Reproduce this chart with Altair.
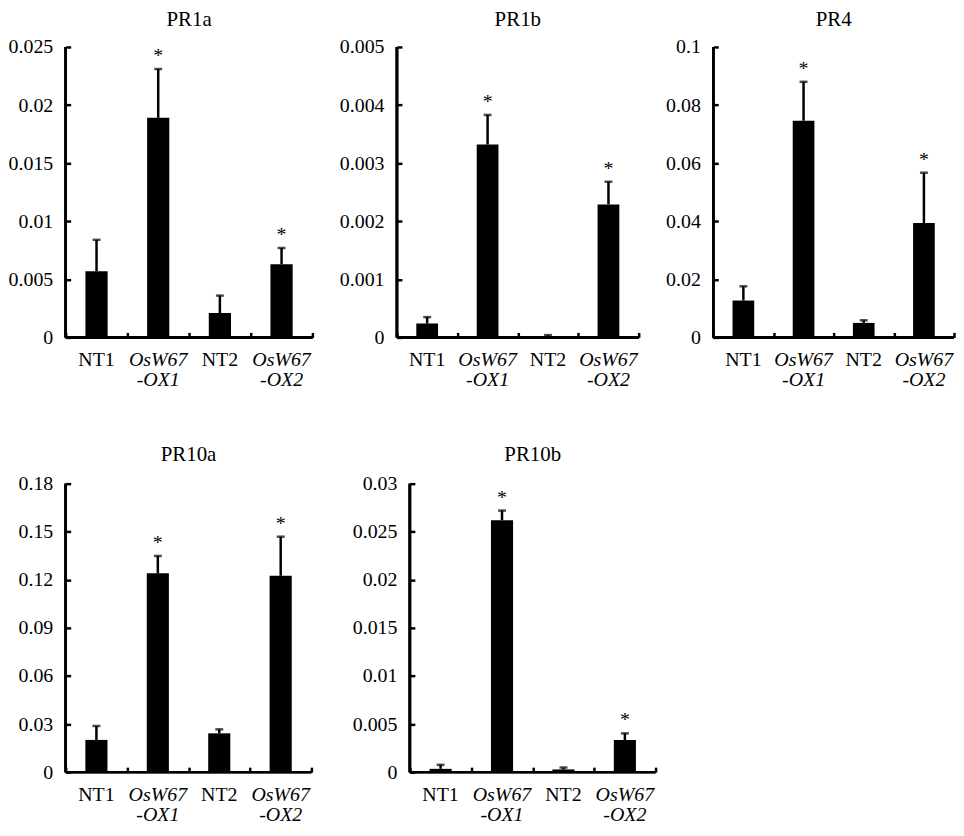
import altair as alt
import pandas as pd

FONT = "Liberation Serif"

lines = ["NT1", "OsW67 -OX1", "NT2", "OsW67 -OX2"]
italic = [False, True, False, True]

means = {
    "PR1a": [0.0057, 0.0189, 0.0021, 0.0063],
    "PR1b": [0.00024, 0.00332, 0.00002, 0.00229],
    "PR4": [0.0127, 0.0746, 0.0050, 0.0394],
    "PR10a": [0.0201, 0.1241, 0.0242, 0.1225],
    "PR10b": [0.00034, 0.0262, 0.00028, 0.00334],
}
upper = {
    "PR1a": [0.0084, 0.0231, 0.0036, 0.0077],
    "PR1b": [0.00035, 0.00383, 0.00004, 0.00268],
    "PR4": [0.0176, 0.0880, 0.0059, 0.0567],
    "PR10a": [0.0288, 0.1349, 0.0267, 0.1469],
    "PR10b": [0.00076, 0.0272, 0.00048, 0.00403],
}
stars = {
    "PR1a": ["", "*", "", "*"],
    "PR1b": ["", "*", "", "*"],
    "PR4": ["", "*", "", "*"],
    "PR10a": ["", "*", "", "*"],
    "PR10b": ["", "*", "", "*"],
}
yticks = {
    "PR1a": [0, 0.005, 0.01, 0.015, 0.02, 0.025],
    "PR1b": [0, 0.001, 0.002, 0.003, 0.004, 0.005],
    "PR4": [0, 0.02, 0.04, 0.06, 0.08, 0.1],
    "PR10a": [0, 0.03, 0.06, 0.09, 0.12, 0.15, 0.18],
    "PR10b": [0, 0.005, 0.01, 0.015, 0.02, 0.025, 0.03],
}


def panel(g, width, height, extent, title_offset):
    df = pd.DataFrame({"line": lines, "mean": means[g], "upper": upper[g],
                       "star": stars[g], "italic": italic})
    base = alt.Chart(df)
    xaxis = alt.Axis(
        title=None, tickBand="extent", domain=False, offset=-5, tickSize=5, tickWidth=2.5,
        tickColor="black", labels=False, labelAngle=0,
    )
    x = alt.X("line:N", sort=lines, scale=alt.Scale(paddingInner=0, paddingOuter=0), axis=xaxis)
    yscale = alt.Scale(domain=[0, max(yticks[g])], nice=False, zero=True)
    yaxis = alt.Axis(
        title=None, values=yticks[g], format="~g", grid=False, domain=False, offset=-5,
        tickSize=5, tickWidth=2.5, tickColor="black", labelPadding=13, labelFont=FONT,
        labelFontSize=20, labelColor="black", minExtent=extent, maxExtent=extent,
    )
    bars = base.mark_bar(color="black", width=alt.RelativeBandSize(0.36)).encode(
        x=x, y=alt.Y("mean:Q", scale=yscale, axis=yaxis)
    )
    err = base.mark_rule(color="black", strokeWidth=2.5).encode(
        x=x, y=alt.Y("mean:Q", scale=yscale, axis=yaxis), y2="upper:Q"
    )
    cap = base.mark_tick(color="black", thickness=2.5, size=8).encode(
        x=x, y=alt.Y("upper:Q", scale=yscale, axis=yaxis)
    )
    star = base.mark_text(font=FONT, fontSize=20, color="black", baseline="alphabetic", dy=-7).encode(
        x=x, y=alt.Y("upper:Q", scale=yscale, axis=yaxis), text="star:N"
    )
    lab_n = base.transform_filter("!datum.italic").mark_text(
        font=FONT, fontSize=20, color="black", baseline="top", lineBreak=" ", lineHeight=20
    ).encode(x=x, y=alt.value(height + 13), text="line:N")
    lab_i = base.transform_filter("datum.italic").mark_text(
        font=FONT, fontSize=20, color="black", baseline="top", lineBreak=" ", lineHeight=20,
        fontStyle="italic"
    ).encode(x=x, y=alt.value(height + 13), text="line:N")
    yline = base.mark_rule(color="black", strokeWidth=2.5).encode(
        x=alt.value(0), y=alt.value(0), y2=alt.value(height)
    )
    xline = base.mark_rule(color="black", strokeWidth=2.5).encode(
        x=alt.value(0), x2=alt.value(width), y=alt.value(height)
    )
    return alt.layer(bars, err, cap, star, lab_n, lab_i, yline, xline).properties(
        width=width, height=height,
        title=alt.TitleParams(g, font=FONT, fontSize=21, fontWeight="normal", color="black",
                              offset=title_offset),
    )


top = alt.hconcat(
    panel("PR1a", 248, 292, 48, 7),
    panel("PR1b", 243, 292, 48, 7),
    panel("PR4", 242, 292, 48, 7),
    spacing=25,
)
bottom = alt.hconcat(
    panel("PR10a", 247, 290, 50, 9),
    panel("PR10b", 247, 290, 50, 9),
    spacing=39,
)
chart = alt.vconcat(top, bottom, spacing=54).properties(
    padding={"left": 0, "right": 0, "top": -1, "bottom": 0}
).configure_view(strokeWidth=0)

chart.save("out.html", embed_options={"renderer": "svg", "actions": False})
